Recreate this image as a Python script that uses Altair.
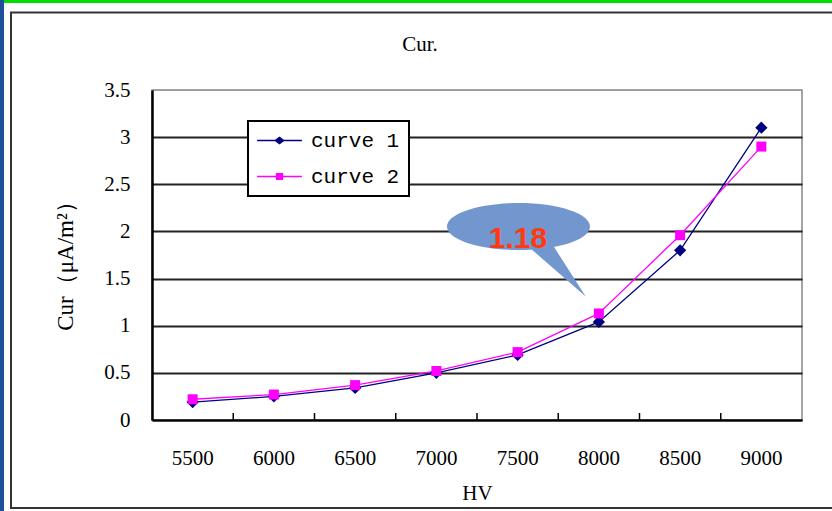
import altair as alt
import pandas as pd

# ---------------- data ----------------
hv = ["5500", "6000", "6500", "7000", "7500", "8000", "8500", "9000"]
curve1 = [0.19, 0.25, 0.34, 0.50, 0.69, 1.04, 1.80, 3.10]
curve2 = [0.22, 0.27, 0.37, 0.52, 0.72, 1.13, 1.96, 2.90]
series_names = ["curve 1", "curve 2"]
series_colors = ["#000080", "#ff00ff"]
y_ticks = [0, 0.5, 1, 1.5, 2, 2.5, 3, 3.5]
chart_title = "Cur."
x_title = "HV"
y_title = "Cur（μA/m²）"
callout_label = "1.18"

W, H = 650, 330
MONO = "Liberation Mono"
SERIF = "Liberation Serif"

df = pd.DataFrame({
    "HV": hv * 2,
    "Cur": curve1 + curve2,
    "series": [series_names[0]] * len(hv) + [series_names[1]] * len(hv),
})
cats = pd.DataFrame({"HV": hv[:-1]})
one = pd.DataFrame({"k": [0]})
legend_df = pd.DataFrame({"series": series_names})
title_df = pd.DataFrame({"t": [chart_title]})
callout_df = pd.DataFrame({"t": [callout_label]})

x_scale = alt.Scale(type="band", domain=hv, paddingInner=0, paddingOuter=0)
y_scale = alt.Scale(domain=[0, 3.5], nice=False, zero=True)
color_scale = alt.Scale(domain=series_names, range=series_colors)

x_axis = alt.Axis(
    title=x_title, labelFont=SERIF, labelFontSize=21, labelColor="black",
    labelAngle=0, labelPadding=27, ticks=False, domainColor="black",
    domainWidth=2, titleFont=SERIF, titleFontSize=21, titleFontWeight="normal",
    titleColor="black", titleX=W / 2, titleY=73, titleBaseline="middle",
    grid=False,
)
y_axis = alt.Axis(
    title=y_title, values=y_ticks, format=".1~f", labelFont=SERIF,
    labelFontSize=21, labelColor="black", labelPadding=22, ticks=False,
    domainColor="black", domainWidth=2.5, grid=True,
    gridColor={"condition": {"test": "datum.value >= 3.5", "value": "#9a9a9a"}, "value": "#222222"},
    gridWidth={"condition": {"test": "datum.value >= 3.5", "value": 1}, "value": 2},
    titleFont=SERIF, titleFontSize=23, titleFontWeight="normal",
    titleColor="black", titleX=-87, titleY=170, titleBaseline="middle",
    titleAngle=270,
)

legend_shapes = [
    "M-5.6,-0.19H5.6V0.19H-5.6ZM0,-1L1.35,0L0,1L-1.35,0Z",
    "M-5.6,-0.19H5.6V0.19H-5.6ZM-0.9,-0.9H0.9V0.9H-0.9Z",
]
legend_def = alt.Legend(
    title=None, orient="none", legendX=96, legendY=31, direction="vertical",
    fillColor="white", strokeColor="black", padding=9, symbolSize=64,
    symbolStrokeWidth=0, symbolOffset=12, labelOffset=21, labelFont=MONO,
    labelFontSize=21, labelColor="black", rowPadding=14,
)

X = alt.X("HV:N", scale=x_scale, axis=x_axis, bandPosition=0.5, sort=hv)
Y = alt.Y("Cur:Q", scale=y_scale, axis=y_axis)
C = alt.Color("series:N", scale=color_scale, legend=legend_def)

# ---------------- legend layer (no marks drawn, only drives the legend) ----------------
leg = alt.Chart(legend_df).transform_filter("false").mark_point(filled=True, opacity=1).encode(
    color=C,
    shape=alt.Shape("series:N", scale=alt.Scale(domain=series_names, range=legend_shapes), legend=legend_def),
)

# ---------------- decorations (page frame) ----------------
blue = alt.Chart(one).mark_rect(color="#1f4f9c", clip=False).encode(
    x=alt.value(-152), x2=alt.value(-148), y=alt.value(-90), y2=alt.value(421))
green = alt.Chart(one).mark_rect(color="#00dd00", clip=False).encode(
    x=alt.value(-148), x2=alt.value(690), y=alt.value(-90), y2=alt.value(-87))
frame = alt.Chart(one).mark_rect(filled=False, color="#333333", strokeWidth=2, clip=False).encode(
    x=alt.value(-141), x2=alt.value(700), y=alt.value(-77.5), y2=alt.value(418))

# ---------------- inner ticks at category boundaries ----------------
ticks = alt.Chart(cats).mark_rule(color="black", strokeWidth=1.5).encode(
    x=alt.X("HV:N", scale=x_scale, axis=x_axis, bandPosition=1, sort=hv),
    y=alt.value(H), y2=alt.value(H - 7))

# ---------------- series ----------------
lines = alt.Chart(df).mark_line(strokeWidth=1.3).encode(x=X, y=Y, color=C, detail="series:N")
pts1 = alt.Chart(df).transform_filter(alt.datum.series == series_names[0]).mark_point(
    filled=True, shape="diamond", size=150, opacity=1).encode(x=X, y=Y, color=C)
pts2 = alt.Chart(df).transform_filter(alt.datum.series == series_names[1]).mark_point(
    filled=True, shape="square", size=100, opacity=1).encode(x=X, y=Y, color=C)

# ---------------- callout ----------------
callout_path = "M-1,0A1,0.329 0 1,0 1,0A1,0.329 0 1,0 -1,0ZM0.16,0.30L0.94,0.98L0.48,0.26Z"
callout = alt.Chart(one).mark_point(
    shape=callout_path, filled=True, opacity=1, color="#7297cf", size=143 ** 2, clip=False
).encode(x=alt.value(366.5), y=alt.value(136.5))
callout_txt = alt.Chart(callout_df).mark_text(
    font="Liberation Sans", fontSize=30, fontWeight="bold", color="#ff3a12",
    baseline="alphabetic", align="center").encode(
    x=alt.value(366), y=alt.value(158), text="t:N")

title_txt = alt.Chart(title_df).mark_text(
    font=SERIF, fontSize=21, color="black", baseline="middle", align="center", clip=False
).encode(x=alt.value(268), y=alt.value(-45), text="t:N")

chart = alt.layer(
    leg, blue, green, frame, ticks, lines, pts1, pts2, callout, callout_txt, title_txt
).properties(
    width=W, height=H,
    padding={"left": 152, "top": 90, "right": 30, "bottom": 91},
    autosize=alt.AutoSizeParams(type="none"),
    background="white",
).configure_view(
    stroke="#888888", strokeWidth=1.5
).configure_legend(strokeWidth=2)

chart.save("out.html", embed_options={"renderer": "svg", "actions": False})
